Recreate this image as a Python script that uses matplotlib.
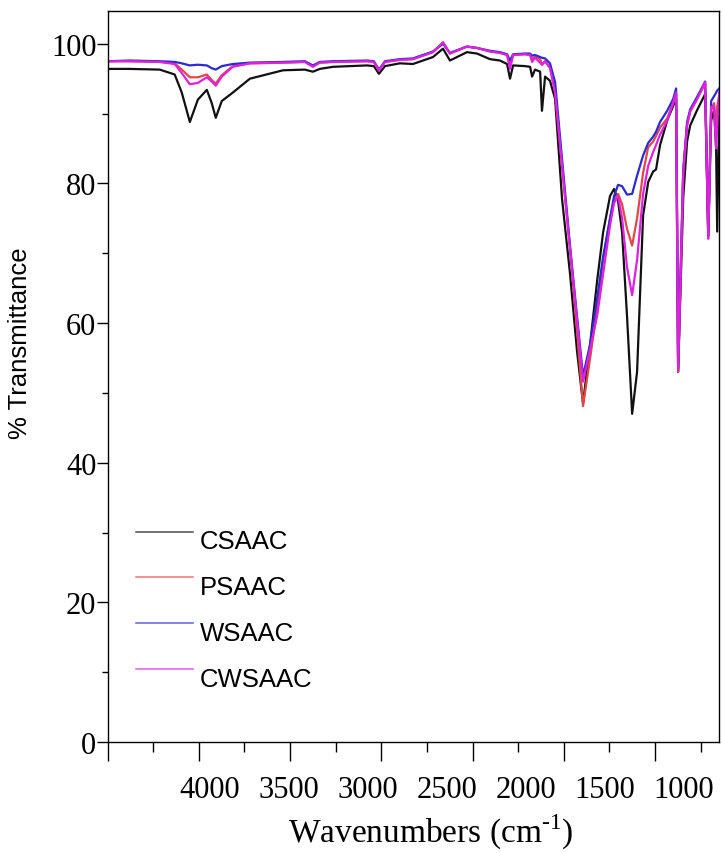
import matplotlib
matplotlib.use("Agg")
import matplotlib.pyplot as plt
import numpy as np
from matplotlib.legend_handler import HandlerLine2D
from matplotlib.lines import Line2D

# FTIR spectra
wavenumber = [4000, 3878, 3714, 3632, 3593, 3549, 3505, 3456, 3429, 3407,
              3374, 3314, 3220, 3039, 2919, 2875, 2837, 2765, 2579, 2541,
              2513, 2480, 2398, 2327, 2217, 2162, 2124, 2031, 1976, 1905,
              1850, 1811, 1795, 1778, 1713, 1685, 1674, 1658, 1630, 1620,
              1603, 1576, 1548, 1510, 1466, 1428, 1395, 1356, 1318, 1285,
              1247, 1225, 1203, 1181, 1154, 1126, 1099, 1066, 1038, 1011,
              995, 973, 934, 901, 885, 874, 863, 846, 825, 808,
              770, 726, 709, 693, 677, 666, 660, 649]

csaac = [96.4, 96.4, 96.3, 95.6, 93.0, 88.8, 92.0, 93.4, 91.5, 89.4,
         91.8, 93.0, 95.0, 96.2, 96.3, 96.0, 96.4, 96.7, 96.9, 96.8,
         95.7, 96.8, 97.2, 97.1, 98.1, 99.3, 97.6, 98.8, 98.6, 97.8,
         97.6, 97.1, 95.0, 96.9, 96.8, 96.7, 95.3, 96.3, 96.0, 90.4,
         95.3, 94.7, 92.1, 77.8, 67.0, 56.0, 48.5, 57.0, 66.0, 73.0,
         78.2, 79.2, 77.5, 73.0, 61.0, 47.0, 53.0, 75.4, 80.2, 81.7,
         82.0, 85.5, 89.0, 91.1, 92.1, 53.0, 63.0, 78.0, 86.0, 88.3,
         90.5, 92.8, 72.5, 89.0, 90.5, 85.0, 73.1, 90.0]

psaac = [97.5, 97.5, 97.4, 97.2, 96.3, 95.2, 95.2, 95.6, 94.8, 94.3,
         95.5, 96.8, 97.2, 97.3, 97.4, 96.8, 97.3, 97.4, 97.5, 97.4,
         96.2, 97.4, 97.7, 97.8, 98.8, 100.2, 98.6, 99.6, 99.4, 98.9,
         98.7, 98.4, 97.0, 98.4, 98.5, 98.4, 97.8, 98.2, 97.8, 97.0,
         97.5, 96.6, 93.5, 82.5, 70.6, 59.0, 48.1, 55.0, 62.0, 69.0,
         75.0, 77.5, 78.5, 77.0, 73.5, 71.1, 75.0, 81.5, 85.2, 86.0,
         86.8, 88.0, 89.3, 91.5, 92.8, 53.0, 64.0, 81.5, 88.3, 90.3,
         92.1, 94.3, 72.1, 90.5, 91.5, 87.4, 91.0, 92.5]

wsaac = [97.5, 97.6, 97.5, 97.4, 97.2, 96.9, 97.0, 96.9, 96.5, 96.3,
         96.8, 97.1, 97.3, 97.4, 97.5, 96.9, 97.4, 97.5, 97.6, 97.5,
         96.3, 97.5, 97.8, 97.9, 98.9, 100.0, 98.7, 99.6, 99.4, 99.0,
         98.8, 98.5, 97.6, 98.5, 98.6, 98.6, 98.3, 98.4, 98.1, 98.0,
         97.9, 97.2, 94.5, 83.5, 71.0, 61.0, 52.4, 57.0, 63.5, 69.5,
         75.0, 78.2, 79.8, 79.6, 78.4, 78.5, 81.1, 84.0, 85.8, 86.7,
         87.4, 88.8, 90.4, 92.1, 93.6, 53.5, 65.0, 82.0, 88.8, 90.6,
         92.4, 94.6, 72.5, 91.8, 92.5, 93.0, 93.3, 93.6]

cwsaac = [97.5, 97.5, 97.4, 97.1, 95.8, 94.2, 94.4, 95.2, 94.6, 94.0,
          95.3, 96.7, 97.2, 97.3, 97.4, 96.7, 97.3, 97.4, 97.5, 97.4,
          96.2, 97.4, 97.7, 97.8, 98.8, 100.2, 98.6, 99.6, 99.4, 98.9,
          98.7, 98.4, 96.4, 98.4, 98.5, 98.4, 97.4, 98.0, 97.3, 97.0,
          97.5, 96.5, 93.0, 82.5, 70.6, 60.5, 51.6, 56.3, 61.0, 67.0,
          74.0, 77.2, 78.2, 75.0, 68.0, 64.0, 69.0, 78.5, 82.5, 84.5,
          85.5, 87.0, 89.0, 91.6, 93.0, 53.2, 64.5, 81.7, 88.3, 90.3,
          92.1, 94.5, 72.1, 91.0, 91.0, 85.0, 88.0, 93.0]

series_names = ["CSAAC", "PSAAC", "WSAAC", "CWSAAC"]
series_colors = ["#111111", "#e04848", "#2b2bd0", "#e020e0"]

x_tick_texts = ["4000", "3500", "3000", "2500", "2000", "1500", "1000"]
# the printed labels sit off the tick marks in the original figure
x_tick_text_pos = [3440, 3007, 2574, 2141, 1708, 1275, 842]

plt.rcParams["font.family"] = ["Liberation Serif", "DejaVu Serif"]
plt.rcParams["mathtext.fontset"] = "custom"
plt.rcParams["mathtext.rm"] = "Liberation Serif"


class RaisedLine(HandlerLine2D):
    # legend line sits a bit above the middle of its label
    def create_artists(self, legend, orig_handle, xdescent, ydescent,
                       width, height, fontsize, trans):
        artists = super().create_artists(legend, orig_handle, xdescent, ydescent,
                                         width, height, fontsize, trans)
        for a in artists:
            a.set_ydata(np.asarray(a.get_ydata(), dtype=float) + 0.3 * fontsize)
        return artists


fig = plt.figure(figsize=(7.23, 8.54), dpi=100)
ax = fig.add_axes([0.1487, 0.13, 0.8458, 0.856])

for values, name, color in zip([csaac, psaac, wsaac, cwsaac], series_names, series_colors):
    ax.plot(wavenumber, values, color=color, lw=1.6, label=name)

ax.set_xlim(4000, 650)
ax.set_ylim(0, 104.7)

ax.set_xticks(np.arange(4000, 999, -500))
ax.set_xticks(np.arange(3750, 700, -500), minor=True)
ax.tick_params(axis="x", which="major", length=14, width=1, labelbottom=False)
ax.tick_params(axis="x", which="minor", length=7, width=1)

ax.set_yticks(np.arange(0, 101, 20))
ax.set_yticks(np.arange(10, 100, 20), minor=True)
ax.tick_params(axis="y", which="major", length=8, width=1, pad=0, labelsize=22)
ax.tick_params(axis="y", which="minor", length=4, width=1)

for side in ["left", "bottom", "top", "right"]:
    ax.spines[side].set_linewidth(1.0)

sec = ax.secondary_xaxis("bottom")
sec.set_xticks(x_tick_text_pos, x_tick_texts)
sec.tick_params(length=0, pad=24, labelsize=22)
sec.spines["bottom"].set_visible(False)

ax.set_xlabel(r"Wavenumbers (cm$^{\text{-1}}$)", fontsize=24)
ax.xaxis.set_label_coords(0.528, -0.095)
ax.set_ylabel("% Transmittance", fontsize=18.5, family=["Liberation Sans", "DejaVu Sans"])
ax.yaxis.set_label_coords(-0.1235, 0.547)

leg = ax.legend(loc="upper left", bbox_to_anchor=(0.0466, 0.291), frameon=False,
                prop={"family": ["Liberation Sans", "DejaVu Sans"], "size": 18.5},
                handlelength=2.2, handletextpad=0.3, labelspacing=0.85,
                borderpad=0, borderaxespad=0,
                handler_map={Line2D: RaisedLine()})
for line in leg.get_lines():
    line.set_linewidth(1.1)
    line.set_alpha(0.75)

fig.savefig("out.png", dpi=100)
